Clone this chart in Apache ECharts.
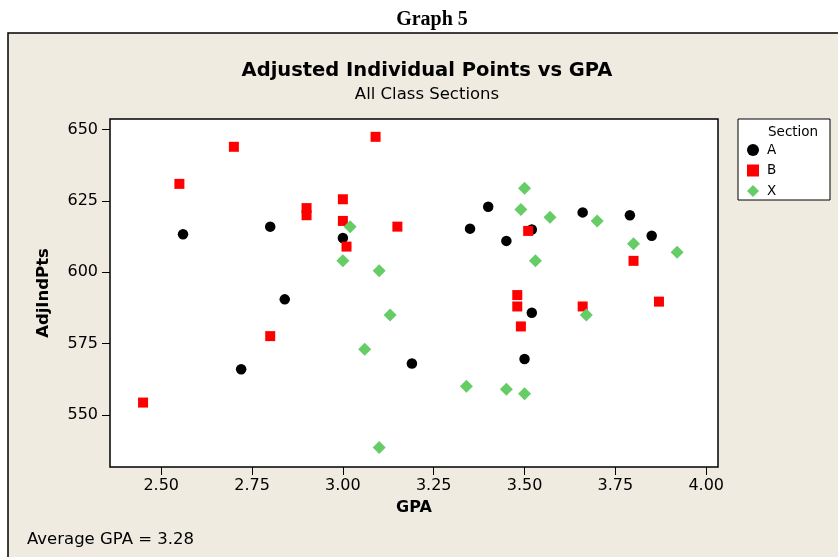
<!DOCTYPE html>
<html>
<head>
<meta charset="utf-8">
<script src="https://cdn.jsdelivr.net/npm/echarts@6/dist/echarts.min.js"></script>
<style>
  html, body { margin: 0; padding: 0; background: #fff; }
  #chart { width: 838px; height: 557px; }
</style>
</head>
<body>
<div id="chart"></div>
<script>
// [GPA, AdjIndPts] per section
const sectionA = [
  [2.56, 613.3], [2.80, 616.0], [3.00, 612.0], [3.40, 623.0], [3.66, 621.0],
  [3.79, 620.0], [3.35, 615.3], [3.45, 611.0], [3.52, 615.0], [3.85, 612.8],
  [2.84, 590.5], [2.72, 566.0], [3.19, 568.0], [3.52, 585.8], [3.50, 569.6]
];
const sectionB = [
  [2.55, 631.0], [2.70, 644.0], [3.09, 647.5], [2.90, 622.5], [2.90, 620.0],
  [3.00, 625.6], [3.00, 618.0], [3.01, 609.0], [3.15, 616.0], [3.51, 614.5],
  [3.80, 604.0], [2.80, 577.6], [2.45, 554.3], [3.48, 592.0], [3.48, 588.0],
  [3.49, 581.0], [3.66, 588.0], [3.87, 589.7]
];
const sectionX = [
  [3.02, 616.0], [3.00, 604.0], [3.10, 600.5], [3.50, 629.5], [3.49, 622.0],
  [3.57, 619.3], [3.70, 618.0], [3.53, 604.0], [3.80, 610.0], [3.92, 607.0],
  [3.13, 585.0], [3.06, 573.0], [3.10, 538.5], [3.67, 585.0], [3.34, 560.0],
  [3.45, 559.0], [3.50, 557.4]
];
const xTicks = [2.5, 2.75, 3.0, 3.25, 3.5, 3.75, 4.0];
const yTicks = [550, 575, 600, 625, 650];

const FONT = 'DejaVu Sans';

const chart = echarts.init(document.getElementById('chart'));

chart.setOption({
  backgroundColor: '#fff',
  animation: false,
  title: [
    {
      text: 'Graph 5', left: 432, top: 10, padding: 0, textAlign: 'center',
      textStyle: { fontFamily: 'Liberation Serif', fontWeight: 'bold', fontSize: 20, color: '#000' }
    },
    {
      text: 'Adjusted Individual Points vs GPA', left: 427, top: 61, padding: 0, textAlign: 'center',
      textStyle: { fontFamily: FONT, fontWeight: 'bold', fontSize: 19.5, color: '#000' }
    },
    {
      text: 'All Class Sections', left: 427, top: 86, padding: 0, textAlign: 'center',
      textStyle: { fontFamily: FONT, fontWeight: 'normal', fontSize: 16.5, color: '#000' }
    },
    {
      text: 'Average GPA = 3.28', left: 27, top: 531, padding: 0,
      textStyle: { fontFamily: FONT, fontWeight: 'normal', fontSize: 16.5, color: '#000' }
    }
  ],
  graphic: [
    {
      type: 'rect', z: -10,
      shape: { x: 8, y: 33, width: 840, height: 540 },
      style: { fill: '#EFEBE1', stroke: '#000', lineWidth: 1.5 }
    },
    {
      type: 'rect', z: 1,
      shape: { x: 738, y: 119, width: 92, height: 81 },
      style: { fill: '#fff', stroke: '#000', lineWidth: 1 }
    },
    {
      type: 'text', z: 2, x: 768, y: 125,
      style: { text: 'Section', font: '13.5px "DejaVu Sans"', fill: '#000' }
    }
  ],
  legend: {
    orient: 'vertical',
    left: 747, top: 143,
    itemWidth: 12, itemHeight: 12, itemGap: 6.5,
    padding: 0,
    z: 5,
    textStyle: { fontFamily: FONT, fontSize: 13.5, color: '#000', padding: [0, 0, 0, 3] },
    data: ['A', 'B', 'X']
  },
  grid: {
    show: true,
    left: 110, top: 119, width: 608, height: 348,
    backgroundColor: '#fff',
    borderColor: '#000', borderWidth: 1.5,
    containLabel: false
  },
  xAxis: {
    type: 'value',
    min: 2.359, max: 4.0325,
    name: 'GPA', nameLocation: 'middle', nameGap: 33,
    nameTextStyle: { fontFamily: FONT, fontWeight: 'bold', fontSize: 16, color: '#000' },
    axisLine: { show: false },
    splitLine: { show: false },
    axisTick: { show: true, length: 8, customValues: xTicks, lineStyle: { color: '#000' } },
    axisLabel: {
      customValues: xTicks, margin: 11,
      fontFamily: FONT, fontSize: 16, color: '#000',
      formatter: v => v.toFixed(2)
    }
  },
  yAxis: {
    type: 'value',
    min: 531.7, max: 653.75,
    name: 'AdjIndPts', nameLocation: 'middle', nameGap: 58,
    nameTextStyle: { fontFamily: FONT, fontWeight: 'bold', fontSize: 16.5, color: '#000' },
    axisLine: { show: false },
    splitLine: { show: false },
    axisTick: { show: true, length: 8, customValues: yTicks, lineStyle: { color: '#000' } },
    axisLabel: {
      customValues: yTicks, margin: 12,
      fontFamily: FONT, fontSize: 16, color: '#000'
    }
  },
  series: [
    { name: 'A', type: 'scatter', symbol: 'circle', symbolSize: 10.5, itemStyle: { color: '#000', opacity: 1 }, data: sectionA, z: 3 },
    { name: 'B', type: 'scatter', symbol: 'rect', symbolSize: 10, itemStyle: { color: '#FF0000', opacity: 1 }, data: sectionB, z: 4 },
    { name: 'X', type: 'scatter', symbol: 'diamond', symbolSize: 13, itemStyle: { color: '#66CC66', opacity: 1 }, data: sectionX, z: 5 }
  ]
});
</script>
</body>
</html>
